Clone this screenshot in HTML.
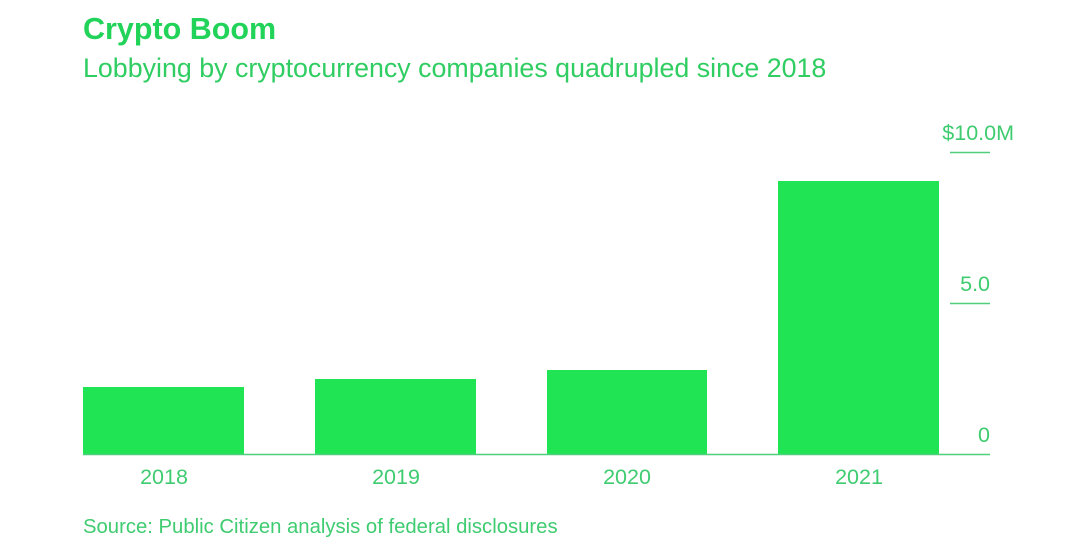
<!DOCTYPE html>
<html><head><style>
body{margin:0;background:#fff;width:1080px;height:548px;overflow:hidden;font-family:"Liberation Sans",sans-serif;}
svg{position:absolute;left:0;top:0}
</style></head><body>
<svg width="1080" height="548" xmlns="http://www.w3.org/2000/svg" font-family="Liberation Sans, sans-serif">
<text x="83" y="39" font-size="30.5" font-weight="bold" fill="#22d35a">Crypto Boom</text>
<text x="83" y="77" font-size="26.8" fill="#2fcd62">Lobbying by cryptocurrency companies quadrupled since 2018</text>
<g fill="#20e454">
<rect x="83" y="387" width="161" height="67"/>
<rect x="315" y="379" width="161" height="75"/>
<rect x="547" y="370" width="160" height="84"/>
<rect x="778" y="181" width="161" height="273"/>
</g>
<g stroke="#4fcf7b" stroke-width="1.5">
<line x1="83" y1="454.5" x2="990" y2="454.5"/>
<line x1="950" y1="152.5" x2="990" y2="152.5"/>
<line x1="950" y1="303.5" x2="990" y2="303.5"/>
</g>
<g font-size="21.5" fill="#3fcc70">
<text x="1014" y="140" text-anchor="end">$10.0M</text>
<text x="990" y="291" text-anchor="end">5.0</text>
<text x="990" y="442" text-anchor="end">0</text>
<text x="164" y="484" text-anchor="middle">2018</text>
<text x="396" y="484" text-anchor="middle">2019</text>
<text x="627" y="484" text-anchor="middle">2020</text>
<text x="859" y="484" text-anchor="middle">2021</text>
</g>
<text x="83" y="533" font-size="20.3" fill="#3fcc70">Source: Public Citizen analysis of federal disclosures</text>
</svg>
</body></html>
